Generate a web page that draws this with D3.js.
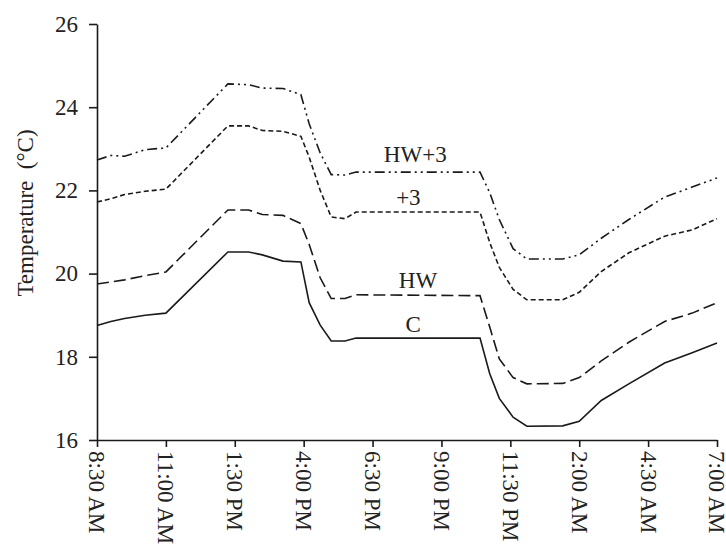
<!DOCTYPE html>
<html>
<head>
    <script src="https://d3js.org/d3.v7.min.js"></script>
    <style>
        body { margin: 0; background: #fff; }
        svg { display: block; }
        text { font-family: "Liberation Serif", "Times New Roman", serif; fill: #222; }
        .series { fill: none; stroke: #1a1a1a; stroke-width: 1.6px; }
        .domain, .tick line { stroke: #1a1a1a; stroke-width: 1.6px; }
    </style>
</head>
<body>
    <div id="chart"></div>

    <script>
        // Hours since midnight (values past 24 belong to the next morning)
        const hours = [8.5, 9.0, 9.5, 10.25, 11.0, 13.25, 14.0, 14.5, 15.25, 15.9, 16.2, 16.6, 17.0, 17.5, 17.9,
            22.4, 22.75, 23.1, 23.6, 24.1, 25.4, 26.0, 26.8, 27.8, 29.1, 30.1, 31.0];

        const tempC = [18.75, 18.85, 18.92, 19.0, 19.05, 20.52, 20.52, 20.45, 20.3, 20.28, 19.3, 18.76, 18.38, 18.38, 18.45,
            18.45, 17.6, 17.0, 16.55, 16.33, 16.34, 16.45, 16.95, 17.35, 17.85, 18.1, 18.33];
        const tempHW = [19.75, 19.8, 19.85, 19.95, 20.04, 21.53, 21.53, 21.42, 21.4, 21.2, 20.7, 19.9, 19.4, 19.4, 19.49,
            19.47, 18.72, 17.95, 17.5, 17.35, 17.36, 17.5, 17.9, 18.35, 18.85, 19.05, 19.3];
        const tempP3 = [21.72, 21.8, 21.9, 21.98, 22.03, 23.55, 23.55, 23.44, 23.42, 23.3, 22.8, 22.0, 21.36, 21.32, 21.48,
            21.48, 20.75, 20.15, 19.62, 19.37, 19.37, 19.55, 20.05, 20.5, 20.9, 21.05, 21.32];
        const tempHWP3 = [22.73, 22.84, 22.82, 22.98, 23.02, 24.56, 24.54, 24.46, 24.45, 24.3, 23.6, 22.9, 22.38, 22.37, 22.44,
            22.44, 21.95, 21.3, 20.6, 20.35, 20.35, 20.45, 20.85, 21.3, 21.84, 22.08, 22.3];

        const seriesNames = ["HW+3", "+3", "HW", "C"];
        const seriesValues = [tempHWP3, tempP3, tempHW, tempC];
        const seriesDash = ["10,4,2,4,2,4", "5,3", "12,5", null];
        // label anchor: hour and temperature where each series name sits
        const labelHours = [20.05, 19.8, 20.15, 19.97];
        const labelTemps = [22.68, 21.65, 19.65, 18.6];

        const xTicks = [8.5, 11, 13.5, 16, 18.5, 21, 23.5, 26, 28.5, 31];
        const xTickLabels = ["8:30 AM", "11:00 AM", "1:30 PM", "4:00 PM", "6:30 PM", "9:00 PM", "11:30 PM", "2:00 AM", "4:30 AM", "7:00 AM"];
        const yTicks = [16, 18, 20, 22, 24, 26];

        const width = 726, height = 554;
        const margin = { top: 24, right: 9, bottom: 114, left: 97 };

        const x = d3.scaleLinear().domain([8.5, 31]).range([margin.left, width - margin.right]);
        const y = d3.scaleLinear().domain([16, 26]).range([height - margin.bottom, margin.top]);

        const svg = d3.select('#chart').append('svg')
            .attr('width', width)
            .attr('height', height);

        // Lines
        const line = d3.line().x(d => x(d[0])).y(d => y(d[1]));
        seriesValues.forEach((vals, i) => {
            svg.append('path')
                .attr('class', 'series')
                .attr('d', line(hours.map((h, j) => [h, vals[j]])))
                .attr('stroke-dasharray', seriesDash[i]);
        });

        // Series labels
        seriesNames.forEach((name, i) => {
            svg.append('text')
                .attr('x', x(labelHours[i]))
                .attr('y', y(labelTemps[i]))
                .attr('text-anchor', 'middle')
                .style('font-size', '23px')
                .text(name);
        });

        // Axes
        const yAxis = svg.append('g')
            .attr('transform', `translate(${margin.left},0)`)
            .call(d3.axisLeft(y).tickValues(yTicks).tickSize(8).tickPadding(11).tickSizeOuter(0));
        yAxis.selectAll('text').style('font-size', '23px');

        const xAxis = svg.append('g')
            .attr('transform', `translate(0,${height - margin.bottom})`)
            .call(d3.axisBottom(x).tickValues(xTicks).tickFormat((d, i) => xTickLabels[i]).tickSize(7).tickSizeOuter(0));
        xAxis.selectAll('text')
            .attr('transform', 'rotate(90)')
            .attr('x', 11)
            .attr('y', 0)
            .attr('dy', '0.35em')
            .style('text-anchor', 'start')
            .style('font-size', '23px');

        svg.append('text')
            .attr('transform', 'translate(33,213) rotate(-90)')
            .attr('text-anchor', 'middle')
            .style('font-size', '23px')
            .text('Temperature\u00a0 (°C)');
    </script>
</body>
</html>
